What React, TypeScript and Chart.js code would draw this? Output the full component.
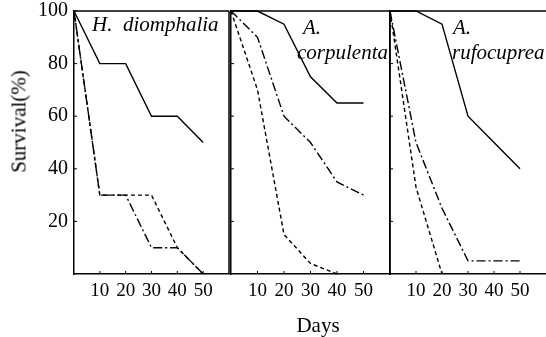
import React, { useEffect, useRef } from "react";
import { Chart, registerables } from "chart.js";

Chart.register(...registerables);

// ---- data ----
const DAYS = [0, 10, 20, 30, 40, 50];
const X_TICKS = [10, 20, 30, 40, 50];
const Y_TICKS = [20, 40, 60, 80, 100];

// H. diomphalia
const H_SOLID = [100, 80, 80, 60, 60, 50];
const H_DASHDOT = [100, 30, 30, 10, 10, 0];
const H_DASHED = [100, 30, 30, 30, 10, 0];

// A. corpulenta
const C_SOLID = [100, 100, 95, 75, 65, 65];
const C_DASHDOT = [100, 90, 60, 50, 35, 30];
const C_DASHED = [100, 70, 15, 4, 0];

// A. rufocuprea
const R_SOLID = [100, 100, 95, 60, 50, 40];
const R_DASHDOT = [100, 50, 25, 5, 5, 5];
const R_DASHED = [100, 33, 0];

const PANEL_NAMES = [["H.\u00a0 diomphalia"], ["A.", "corpulenta"], ["A.", "rufocuprea"]];

const SERIF = "'Liberation Serif', 'Times New Roman', serif";
const SOLID: number[] = [];
const DASHDOT = [9, 3, 2, 3];
const DASHED = [4, 3];

type Series = { values: number[]; dash: number[] };

function Panel(props: {
  left: number;
  width: number;
  pad: { top: number; left: number; right: number; bottom: number };
  yLabels: boolean;
  rightBorder: boolean;
  series: Series[];
}) {
  const ref = useRef<HTMLCanvasElement>(null);
  useEffect(() => {
    const { yLabels, rightBorder, series, pad } = props;
    const frame = {
      id: "frame",
      afterDatasetsDraw(chart: any) {
        const { ctx, chartArea: a, scales } = chart;
        ctx.save();
        ctx.strokeStyle = "#000";
        ctx.lineWidth = 1.5;
        ctx.beginPath();
        ctx.moveTo(a.left, a.top);
        ctx.lineTo(a.right, a.top);
        if (rightBorder) {
          ctx.moveTo(a.right, a.top);
          ctx.lineTo(a.right, a.bottom);
        }
        ctx.stroke();
        ctx.lineWidth = 1;
        ctx.beginPath();
        for (const v of Y_TICKS) {
          const y = scales.y.getPixelForValue(v);
          ctx.moveTo(a.left, y);
          ctx.lineTo(a.left + 3, y);
        }
        for (const v of X_TICKS) {
          const x = scales.x.getPixelForValue(v);
          ctx.moveTo(x, a.bottom);
          ctx.lineTo(x, a.bottom - 3);
        }
        ctx.stroke();
        ctx.restore();
      },
    };
    const chart = new Chart(ref.current as HTMLCanvasElement, {
      type: "line",
      data: {
        datasets: series.map((s) => ({
          data: s.values.map((v, i) => ({ x: DAYS[i], y: v })),
          borderColor: "#000",
          borderWidth: 1.4,
          borderDash: s.dash,
          pointRadius: 0,
          fill: false,
          tension: 0,
          clip: 6,
        })),
      },
      options: {
        responsive: false,
        maintainAspectRatio: false,
        animation: false,
        layout: { padding: pad },
        plugins: { legend: { display: false }, tooltip: { enabled: false } },
        scales: {
          x: {
            type: "linear",
            min: 0,
            max: 60,
            afterFit: (s: any) => {
              s.height = 40;
              s.paddingLeft = 0;
              s.paddingRight = 0;
            },
            ticks: {
              stepSize: 10,
              autoSkip: false,
              maxRotation: 0,
              padding: 6,
              color: "#000",
              font: { family: SERIF, size: 19 },
              callback: (v: any) => (X_TICKS.includes(Number(v)) ? String(v) : ""),
            },
            grid: { drawOnChartArea: false, drawTicks: false },
            border: { color: "#000", width: 1.5 },
          },
          y: {
            type: "linear",
            min: 0,
            max: 100,
            afterFit: (s: any) => {
              s.width = yLabels ? 74 : 0;
              s.paddingTop = 0;
              s.paddingBottom = 0;
            },
            ticks: {
              display: yLabels,
              stepSize: 20,
              padding: 6,
              color: "#000",
              font: { family: SERIF, size: 20 },
              callback: (v: any) => (Y_TICKS.includes(Number(v)) ? String(v) : ""),
            },
            grid: { drawOnChartArea: false, drawTicks: false },
            border: { color: "#000", width: 1.5 },
          },
        },
      } as any,
      plugins: [frame],
    });
    return () => chart.destroy();
  }, []);
  return (
    <canvas
      ref={ref}
      width={props.width}
      height={314}
      style={{ position: "absolute", left: props.left, top: 0, width: props.width, height: 314 }}
    />
  );
}

const textStyle = (left: number, top: number, italic = false): React.CSSProperties => ({
  position: "absolute",
  left,
  top,
  fontFamily: SERIF,
  fontSize: 21,
  lineHeight: "21px",
  fontStyle: italic ? "italic" : "normal",
  whiteSpace: "pre",
  color: "#000",
  pointerEvents: "none",
});

export default function App() {
  return (
    <div
      style={{
        position: "absolute",
        left: 0,
        top: 0,
        width: 546,
        height: 337,
        background: "#fff",
        overflow: "hidden",
      }}
    >
      <Panel
        left={0}
        width={232}
        pad={{ top: 11, left: 0, right: 3, bottom: 0 }}
        yLabels={true}
        rightBorder={true}
        series={[
          { values: H_SOLID, dash: SOLID },
          { values: H_DASHDOT, dash: DASHDOT },
          { values: H_DASHED, dash: DASHED },
        ]}
      />
      <Panel
        left={226}
        width={168}
        pad={{ top: 11, left: 5, right: 4, bottom: 0 }}
        yLabels={false}
        rightBorder={true}
        series={[
          { values: C_SOLID, dash: SOLID },
          { values: C_DASHDOT, dash: DASHDOT },
          { values: C_DASHED, dash: DASHED },
        ]}
      />
      <Panel
        left={385}
        width={161}
        pad={{ top: 11, left: 5, right: 0, bottom: 0 }}
        yLabels={false}
        rightBorder={false}
        series={[
          { values: R_SOLID, dash: SOLID },
          { values: R_DASHDOT, dash: DASHDOT },
          { values: R_DASHED, dash: DASHED },
        ]}
      />
      <div style={textStyle(92, 14, true)}>{PANEL_NAMES[0][0]}</div>
      <div style={textStyle(303, 17, true)}>{PANEL_NAMES[1][0]}</div>
      <div style={textStyle(297, 42, true)}>{PANEL_NAMES[1][1]}</div>
      <div style={textStyle(453, 17, true)}>{PANEL_NAMES[2][0]}</div>
      <div style={textStyle(452, 42, true)}>{PANEL_NAMES[2][1]}</div>
      <div style={{ ...textStyle(296, 315), width: 44, textAlign: "center" }}>Days</div>
      <div
        style={{
          ...textStyle(19 - 60, 121 - 10.5),
          width: 120,
          textAlign: "center",
          transform: "rotate(-90deg)",
          transformOrigin: "60px 10.5px",
        }}
      >
        Survival(%)
      </div>
    </div>
  );
}
